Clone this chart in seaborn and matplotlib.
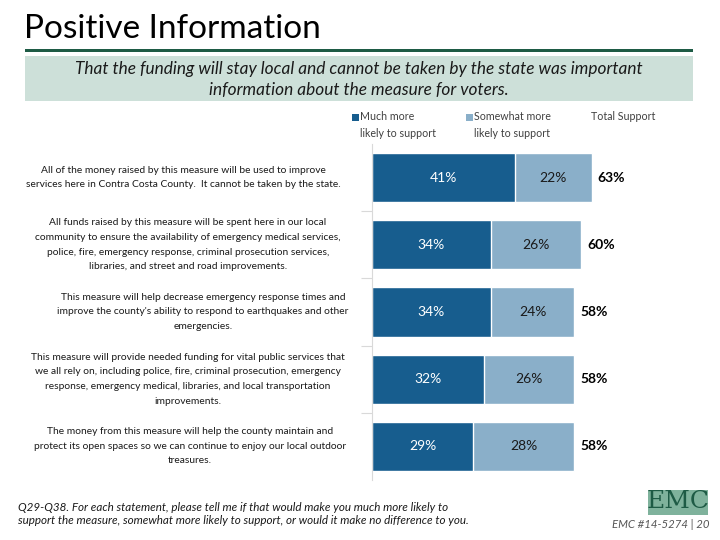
import matplotlib
matplotlib.use("Agg")
import matplotlib.pyplot as plt
import matplotlib.transforms as mtransforms
from matplotlib.patches import Rectangle
import seaborn as sns
import pandas as pd

sns.set_theme(style="white")
plt.rcParams['font.family'] = ['Lato', 'DejaVu Sans']

# ---- data ----
statements = [
    "All of the money raised by this measure will be used to improve\nservices here in Contra Costa County.  It cannot be taken by the state.",
    "All funds raised by this measure will be spent here in our local\ncommunity to ensure the availability of emergency medical services,\npolice, fire, emergency response, criminal prosecution services,\nlibraries, and street and road improvements.",
    "This measure will help decrease emergency response times and\nimprove the county's ability to respond to earthquakes and other\nemergencies.",
    "This measure will provide needed funding for vital public services that\nwe all rely on, including police, fire, criminal prosecution, emergency\nresponse, emergency medical, libraries, and local transportation\nimprovements.",
    "The money from this measure will help the county maintain and\nprotect its open spaces so we can continue to enjoy our local outdoor\ntreasures.",
]
much_more = [41, 34, 34, 32, 29]
somewhat_more = [22, 26, 24, 26, 28]
total_support = [63, 60, 58, 58, 58]
legend_labels = ["Much more\nlikely to support", "Somewhat more\nlikely to support", "Total Support"]

title = "Positive Information"
subtitle = ("That the funding will stay local and cannot be taken by the state was important\n"
            "information about the measure for voters.")
footnote = ("Q29-Q38. For each statement, please tell me if that would make you much more likely to\n"
            "support the measure, somewhat more likely to support, or would it make no difference to you.")
page_ref = "EMC #14-5274 | 20"

DARK = "#175d8e"
LIGHT = "#8aafc9"
GREEN = "#1e5b45"
BOX = "#cde0d9"

W, H = 720, 540
fig = plt.figure(figsize=(7.2, 5.4), dpi=100)
fig.patch.set_facecolor("white")

def fx(px):
    return px / W

def fy(py):
    return 1 - py / H

# axes: left 372px, top 144px, bottom 480px
ax = fig.add_axes([fx(372), fy(480), fx(700) - fx(372), fy(144) - fy(480)])

df = pd.DataFrame({"row": [str(i) for i in range(len(statements))],
                   "much": much_more, "some": somewhat_more, "total": total_support})

sns.barplot(data=df, x="total", y="row", orient="h", color=LIGHT, width=0.73,
            saturation=1, ax=ax)
sns.barplot(data=df, x="much", y="row", orient="h", color=DARK, width=0.73,
            saturation=1, ax=ax)

ax.set_xlim(0, 94)
ax.set_ylim(4.5, -0.5)
ax.set_xlabel("")
ax.set_ylabel("")
ax.set_xticks([])
ax.set_yticks([0.5, 1.5, 2.5, 3.5])
ax.set_yticklabels([])
ax.tick_params(axis="y", direction="out", length=8, width=0.8, color="#d9d9d9", left=True)
for s in ["top", "right", "bottom"]:
    ax.spines[s].set_visible(False)
ax.spines["left"].set_color("#d9d9d9")
ax.spines["left"].set_linewidth(0.8)

# value labels
for i in range(len(statements)):
    m = much_more[i]
    t = total_support[i]
    ax.text(m / 2, i, f"{m}%", ha="center", va="center", color="white", fontsize=10)
    ax.text(m + (t - m) / 2, i, f"{somewhat_more[i]}%", ha="center", va="center",
            color="#1a1a1a", fontsize=10)
    ax.text(t + 1.6, i, f"{t}%", ha="left", va="center", color="black",
            fontsize=10, fontweight="bold")

# statement labels (left, centered)
trans = mtransforms.blended_transform_factory(fig.transFigure, ax.transData)
label_cx = [183, 188, 203, 188, 190]
for i, s in enumerate(statements):
    ax.text(fx(label_cx[i]), i, s, transform=trans, ha="center", va="center",
            multialignment="center", fontsize=7.4, color="#1a1a1a", linespacing=1.8)

# title and header
fig.text(fx(24), fy(29), title, ha="left", va="center", fontsize=24, color="black")
fig.add_artist(Rectangle((fx(25), fy(52)), fx(693) - fx(25), fy(49) - fy(52),
                         transform=fig.transFigure, color=GREEN, lw=0))
fig.add_artist(Rectangle((fx(25), fy(101)), fx(693) - fx(25), fy(56) - fy(101),
                         transform=fig.transFigure, color=BOX, lw=0))
fig.text(fx(359), fy(79.5), subtitle, ha="center", va="center", fontsize=12.4,
         style="italic", color="#1a1a1a", linespacing=1.45)

# legend
leg_x = [360, 474, 591]
leg_colors = [DARK, LIGHT, None]
for lx, lab, col in zip(leg_x, legend_labels, leg_colors):
    if col is not None:
        fig.add_artist(Rectangle((fx(lx - 8), fy(121)), fx(7), 7 / H,
                                 transform=fig.transFigure, color=col, lw=0))
    fig.text(fx(lx), fy(111), lab, ha="left", va="top", fontsize=7.7,
             color="#404040", linespacing=1.62)

# footnote
fig.text(fx(18), fy(514), footnote, ha="left", va="center", fontsize=8.4,
         style="italic", color="#1a1a1a", linespacing=1.3)

# logo
fig.add_artist(Rectangle((fx(648), fy(515)), fx(60), 25 / H,
                         transform=fig.transFigure, color="#7fb29c", lw=0))
fig.text(fx(678), fy(502), "EMC", ha="center", va="center", fontsize=18,
         family="DejaVu Serif", color=GREEN)
fig.text(fx(710), fy(524), page_ref, ha="right", va="center", fontsize=8.2,
         style="italic", color="#555555")

fig.savefig("out.png", dpi=100)
